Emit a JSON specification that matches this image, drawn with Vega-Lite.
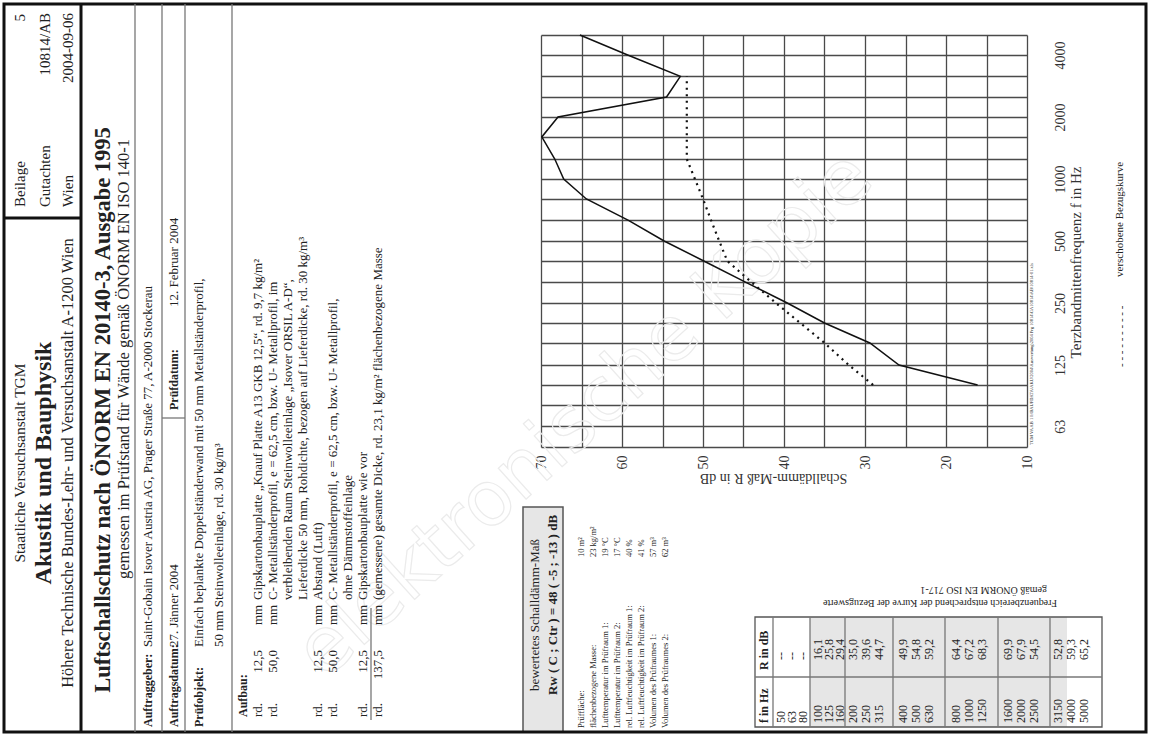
{
"$schema": "https://vega.github.io/schema/vega-lite/v6.json",
"width": 486,
"height": 412,
"autosize": "none",
"padding": {"left": 541, "top": 35, "right": 127, "bottom": 291},
"background": "white",
"config": {"font": "Liberation Serif", "view": {"stroke": null}, "text": {"font": "Liberation Serif", "color": "#222"}},
"datasets": {
"curves": [
{"series": "gemessen", "f": 100, "R": 16.1}, {"series": "gemessen", "f": 125, "R": 25.8}, {"series": "gemessen", "f": 160, "R": 29.4},
{"series": "gemessen", "f": 200, "R": 35.0}, {"series": "gemessen", "f": 250, "R": 39.6}, {"series": "gemessen", "f": 315, "R": 44.7},
{"series": "gemessen", "f": 400, "R": 49.9}, {"series": "gemessen", "f": 500, "R": 54.8}, {"series": "gemessen", "f": 630, "R": 59.2},
{"series": "gemessen", "f": 800, "R": 64.4}, {"series": "gemessen", "f": 1000, "R": 67.2}, {"series": "gemessen", "f": 1250, "R": 68.3},
{"series": "gemessen", "f": 1600, "R": 69.9}, {"series": "gemessen", "f": 2000, "R": 67.9}, {"series": "gemessen", "f": 2500, "R": 54.5},
{"series": "gemessen", "f": 3150, "R": 52.8}, {"series": "gemessen", "f": 4000, "R": 59.3}, {"series": "gemessen", "f": 5000, "R": 65.2},
{"series": "Bezugskurve", "f": 100, "R": 29}, {"series": "Bezugskurve", "f": 125, "R": 32}, {"series": "Bezugskurve", "f": 160, "R": 35},
{"series": "Bezugskurve", "f": 200, "R": 38}, {"series": "Bezugskurve", "f": 250, "R": 41}, {"series": "Bezugskurve", "f": 315, "R": 44},
{"series": "Bezugskurve", "f": 400, "R": 47}, {"series": "Bezugskurve", "f": 500, "R": 48}, {"series": "Bezugskurve", "f": 630, "R": 49},
{"series": "Bezugskurve", "f": 800, "R": 50}, {"series": "Bezugskurve", "f": 1000, "R": 51}, {"series": "Bezugskurve", "f": 1250, "R": 52},
{"series": "Bezugskurve", "f": 1600, "R": 52}, {"series": "Bezugskurve", "f": 2000, "R": 52}, {"series": "Bezugskurve", "f": 2500, "R": 52},
{"series": "Bezugskurve", "f": 3150, "R": 52}
],
"boxes": [
{"role": "shade", "cx": 810, "cx2": 1067, "cy": 617, "cy2": 727},
{"role": "rw", "cx": 523, "cx2": 563, "cy": 507, "cy2": 732},
{"role": "tbl", "cx": 755, "cx2": 1102, "cy": 617, "cy2": 727},
{"role": "frame", "cx": 4, "cx2": 1146, "cy": 4, "cy2": 732}
],
"lines": [
{"role": "thick", "cx": 81, "cx2": 81, "cy": 4, "cy2": 732},
{"role": "thick", "cx": 4, "cx2": 81, "cy": 218, "cy2": 218},
{"role": "thin", "cx": 135, "cx2": 135, "cy": 4, "cy2": 732},
{"role": "thin", "cx": 162, "cx2": 162, "cy": 4, "cy2": 732},
{"role": "thin", "cx": 185, "cx2": 185, "cy": 4, "cy2": 732},
{"role": "thin", "cx": 232, "cx2": 232, "cy": 4, "cy2": 732},
{"role": "thin", "cx": 162, "cx2": 185, "cy": 418, "cy2": 418},
{"role": "thin", "cx": 371, "cx2": 371, "cy": 720, "cy2": 608},
{"role": "thin", "cx": 755, "cx2": 1102, "cy": 677, "cy2": 677},
{"role": "thin", "cx": 773, "cx2": 773, "cy": 617, "cy2": 727},
{"role": "thin", "cx": 810, "cx2": 810, "cy": 617, "cy2": 727},
{"role": "thin", "cx": 845, "cx2": 845, "cy": 617, "cy2": 727},
{"role": "thin", "cx": 893, "cx2": 893, "cy": 617, "cy2": 727},
{"role": "thin", "cx": 945, "cx2": 945, "cy": 617, "cy2": 727},
{"role": "thin", "cx": 998, "cx2": 998, "cy": 617, "cy2": 727},
{"role": "thin", "cx": 1050, "cx2": 1050, "cy": 617, "cy2": 727}
],
"texts": [
{"role": "wm", "t": "elektronische Kopie", "cx": 585, "cy": 415},
{"role": "inst", "t": "Staatliche Versuchsanstalt TGM", "cx": 20, "cy": 463},
{"role": "inst2", "t": "Höhere Technische Bundes-Lehr- und Versuchsanstalt A-1200 Wien", "cx": 68, "cy": 463},
{"role": "instb", "t": "Akustik und Bauphysik", "cx": 44, "cy": 463},
{"role": "box", "t": "Beilage", "cx": 20, "cy": 207},
{"role": "box", "t": "Gutachten", "cx": 45, "cy": 207},
{"role": "box", "t": "Wien", "cx": 68, "cy": 207},
{"role": "boxr", "t": "5", "cx": 20, "cy": 14},
{"role": "boxr", "t": "10814/AB", "cx": 45, "cy": 13},
{"role": "boxr", "t": "2004-09-06", "cx": 68, "cy": 13},
{"role": "title", "t": "Luftschallschutz nach ÖNORM EN 20140-3, Ausgabe 1995", "cx": 103, "cy": 410},
{"role": "sub", "t": "gemessen im Prüfstand für Wände gemäß ÖNORM EN ISO 140-1", "cx": 124, "cy": 359},
{"role": "lbl", "t": "Auftraggeber:", "cx": 148, "cy": 727},
{"role": "lbl", "t": "Auftragsdatum:", "cx": 174, "cy": 727},
{"role": "lbl", "t": "Prüfdatum:", "cx": 174, "cy": 410},
{"role": "lbl", "t": "Prüfobjekt:", "cx": 199, "cy": 727},
{"role": "lbl", "t": "Aufbau:", "cx": 243, "cy": 717},
{"role": "val", "t": "Saint-Gobain Isover Austria AG, Prager Straße 77, A-2000 Stockerau", "cx": 148, "cy": 647},
{"role": "val", "t": "27. Jänner 2004", "cx": 174, "cy": 647},
{"role": "val", "t": "12. Februar 2004", "cx": 174, "cy": 307},
{"role": "val", "t": "Einfach beplankte Doppelständerwand mit 50 mm Metallständerprofil,", "cx": 199, "cy": 647},
{"role": "val", "t": "50 mm Steinwolleeinlage, rd. 30 kg/m³", "cx": 219, "cy": 647},
{"role": "val", "t": "rd.", "cx": 258, "cy": 717},
{"role": "valr", "t": "12,5", "cx": 258, "cy": 650},
{"role": "val", "t": "mm", "cx": 258, "cy": 625},
{"role": "val", "t": "Gipskartonbauplatte „Knauf Platte A13 GKB 12,5“, rd. 9,7 kg/m²", "cx": 258, "cy": 600},
{"role": "val", "t": "rd.", "cx": 273, "cy": 717},
{"role": "valr", "t": "50,0", "cx": 273, "cy": 650},
{"role": "val", "t": "mm", "cx": 273, "cy": 625},
{"role": "val", "t": "C- Metallständerprofil, e = 62,5 cm, bzw. U- Metallprofil, im", "cx": 273, "cy": 600},
{"role": "val", "t": "verbleibenden Raum Steinwolleeinlage „Isover ORSIL A-D“,", "cx": 288, "cy": 600},
{"role": "val", "t": "Lieferdicke 50 mm, Rohdichte, bezogen auf Lieferdicke, rd. 30 kg/m³", "cx": 303, "cy": 600},
{"role": "val", "t": "rd.", "cx": 318, "cy": 717},
{"role": "valr", "t": "12,5", "cx": 318, "cy": 650},
{"role": "val", "t": "mm", "cx": 318, "cy": 625},
{"role": "val", "t": "Abstand (Luft)", "cx": 318, "cy": 600},
{"role": "val", "t": "rd.", "cx": 333, "cy": 717},
{"role": "valr", "t": "50,0", "cx": 333, "cy": 650},
{"role": "val", "t": "mm", "cx": 333, "cy": 625},
{"role": "val", "t": "C- Metallständerprofil, e = 62,5 cm, bzw. U- Metallprofil,", "cx": 333, "cy": 600},
{"role": "val", "t": "ohne Dämmstoffeinlage", "cx": 348, "cy": 600},
{"role": "val", "t": "rd.", "cx": 363, "cy": 717},
{"role": "valr", "t": "12,5", "cx": 363, "cy": 650},
{"role": "val", "t": "mm", "cx": 363, "cy": 625},
{"role": "val", "t": "Gipskartonbauplatte wie vor", "cx": 363, "cy": 600},
{"role": "val", "t": "rd.", "cx": 378, "cy": 717},
{"role": "valr", "t": "137,5", "cx": 378, "cy": 650},
{"role": "val", "t": "mm", "cx": 378, "cy": 625},
{"role": "val", "t": "(gemessene) gesamte Dicke, rd. 23,1 kg/m² flächenbezogene Masse", "cx": 378, "cy": 600},
{"role": "rw1", "t": "bewertetes Schalldämm-Maß", "cx": 535, "cy": 615},
{"role": "rw2", "t": "Rw ( C ; Ctr ) =  48 ( -5 ; -13 ) dB", "cx": 553, "cy": 605},
{"role": "prop", "t": "Prüffläche:", "cx": 581, "cy": 728},
{"role": "prop", "t": "flächenbezogene Masse:", "cx": 593, "cy": 728},
{"role": "prop", "t": "Lufttemperatur im Prüfraum 1:", "cx": 605, "cy": 728},
{"role": "prop", "t": "Lufttemperatur im Prüfraum 2:", "cx": 617, "cy": 728},
{"role": "prop", "t": "rel. Luftfeuchtigkeit im Prüfraum 1:", "cx": 629, "cy": 728},
{"role": "prop", "t": "rel. Luftfeuchtigkeit im Prüfraum 2:", "cx": 641, "cy": 728},
{"role": "prop", "t": "Volumen des Prüfraumes 1:", "cx": 653, "cy": 728},
{"role": "prop", "t": "Volumen des Prüfraumes 2:", "cx": 665, "cy": 728},
{"role": "prop", "t": "10 m²", "cx": 581, "cy": 557},
{"role": "prop", "t": "23 kg/m²", "cx": 593, "cy": 557},
{"role": "prop", "t": "19 °C", "cx": 605, "cy": 557},
{"role": "prop", "t": "17 °C", "cx": 617, "cy": 557},
{"role": "prop", "t": "40 %", "cx": 629, "cy": 557},
{"role": "prop", "t": "41 %", "cx": 641, "cy": 557},
{"role": "prop", "t": "57 m³", "cx": 653, "cy": 557},
{"role": "prop", "t": "62 m³", "cx": 665, "cy": 557},
{"role": "tblh", "t": "f in Hz", "cx": 764, "cy": 723},
{"role": "tblh", "t": "R in dB", "cx": 764, "cy": 670},
{"role": "tbl", "t": "50", "cx": 781, "cy": 723}, {"role": "tbl", "t": "--", "cx": 781, "cy": 660},
{"role": "tbl", "t": "63", "cx": 792, "cy": 723}, {"role": "tbl", "t": "--", "cx": 792, "cy": 660},
{"role": "tbl", "t": "80", "cx": 803, "cy": 723}, {"role": "tbl", "t": "--", "cx": 803, "cy": 660},
{"role": "tbl", "t": "100", "cx": 818, "cy": 723}, {"role": "tbl", "t": "16,1", "cx": 818, "cy": 660},
{"role": "tbl", "t": "125", "cx": 829, "cy": 723}, {"role": "tbl", "t": "25,8", "cx": 829, "cy": 660},
{"role": "tbl", "t": "160", "cx": 840, "cy": 723}, {"role": "tbl", "t": "29,4", "cx": 840, "cy": 660},
{"role": "tbl", "t": "200", "cx": 853, "cy": 723}, {"role": "tbl", "t": "35,0", "cx": 853, "cy": 660},
{"role": "tbl", "t": "250", "cx": 866, "cy": 723}, {"role": "tbl", "t": "39,6", "cx": 866, "cy": 660},
{"role": "tbl", "t": "315", "cx": 879, "cy": 723}, {"role": "tbl", "t": "44,7", "cx": 879, "cy": 660},
{"role": "tbl", "t": "400", "cx": 903, "cy": 723}, {"role": "tbl", "t": "49,9", "cx": 903, "cy": 660},
{"role": "tbl", "t": "500", "cx": 916, "cy": 723}, {"role": "tbl", "t": "54,8", "cx": 916, "cy": 660},
{"role": "tbl", "t": "630", "cx": 929, "cy": 723}, {"role": "tbl", "t": "59,2", "cx": 929, "cy": 660},
{"role": "tbl", "t": "800", "cx": 956, "cy": 723}, {"role": "tbl", "t": "64,4", "cx": 956, "cy": 660},
{"role": "tbl", "t": "1000", "cx": 969, "cy": 723}, {"role": "tbl", "t": "67,2", "cx": 969, "cy": 660},
{"role": "tbl", "t": "1250", "cx": 982, "cy": 723}, {"role": "tbl", "t": "68,3", "cx": 982, "cy": 660},
{"role": "tbl", "t": "1600", "cx": 1008, "cy": 723}, {"role": "tbl", "t": "69,9", "cx": 1008, "cy": 660},
{"role": "tbl", "t": "2000", "cx": 1021, "cy": 723}, {"role": "tbl", "t": "67,9", "cx": 1021, "cy": 660},
{"role": "tbl", "t": "2500", "cx": 1034, "cy": 723}, {"role": "tbl", "t": "54,5", "cx": 1034, "cy": 660},
{"role": "tbl", "t": "3150", "cx": 1058, "cy": 723}, {"role": "tbl", "t": "52,8", "cx": 1058, "cy": 660},
{"role": "tbl", "t": "4000", "cx": 1071, "cy": 723}, {"role": "tbl", "t": "59,3", "cx": 1071, "cy": 660},
{"role": "tbl", "t": "5000", "cx": 1084, "cy": 723}, {"role": "tbl", "t": "65,2", "cx": 1084, "cy": 660},
{"role": "cap", "t": "Frequenzbereich entsprechend der Kurve der Bezugswerte", "cx": 1057, "cy": 603},
{"role": "cap", "t": "gemäß ÖNORM EN ISO 717-1", "cx": 1047, "cy": 590},
{"role": "leg", "t": "- - - - - - - - - -", "cx": 1122, "cy": 367},
{"role": "leg", "t": "verschobene Bezugskurve", "cx": 1120, "cy": 277},
{"role": "path", "t": "TGM VA AB 1 I:\\BAUFDATA\\AKU\\2004\\Auswertung\\2004 Prg 10814\\GA10814\\AB\\10814-01.xls", "cx": 1032, "cy": 445}
]
},
"layer": [
{
"data": {"name": "texts"},
"transform": [{"filter": "datum.role == 'wm'"}],
"mark": {"type": "text", "angle": 318, "font": "DejaVu Sans", "fontSize": 76, "align": "center", "baseline": "middle", "fillOpacity": 0, "stroke": "#ebebeb", "strokeWidth": 1.2},
"encoding": {
"x": {"field": "cx", "type": "quantitative", "scale": {"domain": [541, 1027], "nice": false, "zero": false}, "axis": null},
"y": {"field": "cy", "type": "quantitative", "scale": {"domain": [35, 447], "reverse": true, "nice": false, "zero": false}, "axis": null},
"text": {"field": "t"}
}
},
{
"data": {"name": "curves"},
"encoding": {
"x": {"field": "R", "type": "quantitative",
"scale": {"domain": [10, 70], "reverse": true, "nice": false, "zero": false},
"axis": {"orient": "bottom", "values": [10, 15, 20, 25, 30, 35, 40, 45, 50, 55, 60, 65, 70],
"labelExpr": "datum.value % 10 == 0 ? '' + datum.value : ''",
"grid": true, "gridColor": "#4a4a4a", "gridWidth": 1.3, "gridOpacity": 1,
"ticks": false, "tickSize": 0, "domain": false,
"labelAngle": 270, "labelAlign": "right", "labelBaseline": "middle", "labelPadding": 8,
"labelFont": "Liberation Serif", "labelFontSize": 14, "labelColor": "#333",
"title": "Schalldämm-Maß R in dB", "titleAngle": 180, "titleFont": "Liberation Serif", "titleFontSize": 14,
"titleFontWeight": "normal", "titleColor": "#333", "titleX": 232, "titleY": 30, "titleAlign": "center", "titleBaseline": "middle"}},
"y": {"field": "f", "type": "quantitative",
"scale": {"type": "log", "domain": [50, 5000], "nice": false},
"axis": {"orient": "right", "values": [50, 63, 80, 100, 125, 160, 200, 250, 315, 400, 500, 630, 800, 1000, 1250, 1600, 2000, 2500, 3150, 4000, 5000],
"labelExpr": "indexof([63, 125, 250, 500, 1000, 2000, 4000], datum.value) >= 0 ? '' + datum.value : ''",
"grid": true, "gridColor": "#4a4a4a", "gridWidth": 1.3, "gridOpacity": 1,
"ticks": false, "tickSize": 0, "domain": false,
"labelAngle": 270, "labelAlign": "center", "labelBaseline": "middle", "labelPadding": 33,
"labelFont": "Liberation Serif", "labelFontSize": 14, "labelColor": "#333",
"title": "Terzbandmittenfrequenz f in Hz", "titleAngle": 270, "titleFont": "Liberation Serif", "titleFontSize": 15,
"titleFontWeight": "normal", "titleColor": "#333", "titleX": 48, "titleY": 227, "titleAlign": "center", "titleBaseline": "middle"}},
"order": {"field": "f", "type": "quantitative"}
},
"layer": [
{"transform": [{"filter": "datum.series == 'gemessen'"}], "mark": {"type": "line", "color": "#111", "strokeWidth": 1.5}},
{"transform": [{"filter": "datum.series == 'Bezugskurve'"}], "mark": {"type": "line", "color": "#111", "strokeWidth": 2.2, "strokeDash": [2, 4.5]}}
]
},
{
"encoding": {
"x": {"field": "cx", "type": "quantitative", "scale": {"domain": [541, 1027], "nice": false, "zero": false}, "axis": null},
"y": {"field": "cy", "type": "quantitative", "scale": {"domain": [35, 447], "reverse": true, "nice": false, "zero": false}, "axis": null}
},
"layer": [
{"data": {"name": "boxes"}, "transform": [{"filter": "datum.role == 'shade'"}], "mark": {"type": "rect", "fill": "#e6e6e6"}, "encoding": {"x2": {"field": "cx2"}, "y2": {"field": "cy2"}}},
{"data": {"name": "boxes"}, "transform": [{"filter": "datum.role == 'rw'"}], "mark": {"type": "rect", "fill": "#e6e6e6", "stroke": "#555", "strokeWidth": 1.5}, "encoding": {"x2": {"field": "cx2"}, "y2": {"field": "cy2"}}},
{"data": {"name": "boxes"}, "transform": [{"filter": "datum.role == 'tbl'"}], "mark": {"type": "rect", "fillOpacity": 0, "stroke": "#555", "strokeWidth": 1.3}, "encoding": {"x2": {"field": "cx2"}, "y2": {"field": "cy2"}}},
{"data": {"name": "boxes"}, "transform": [{"filter": "datum.role == 'frame'"}], "mark": {"type": "rect", "fillOpacity": 0, "stroke": "#111", "strokeWidth": 3}, "encoding": {"x2": {"field": "cx2"}, "y2": {"field": "cy2"}}},
{"data": {"name": "lines"}, "transform": [{"filter": "datum.role == 'thick'"}], "mark": {"type": "rule", "color": "#111", "strokeWidth": 3}, "encoding": {"x2": {"field": "cx2"}, "y2": {"field": "cy2"}}},
{"data": {"name": "lines"}, "transform": [{"filter": "datum.role == 'thin'"}], "mark": {"type": "rule", "color": "#777", "strokeWidth": 1.3}, "encoding": {"x2": {"field": "cx2"}, "y2": {"field": "cy2"}}},
{"data": {"name": "texts"}, "transform": [{"filter": "datum.role == 'inst'"}], "mark": {"type": "text", "angle": 270, "fontSize": 15.5, "align": "center", "baseline": "middle"}, "encoding": {"text": {"field": "t"}}},
{"data": {"name": "texts"}, "transform": [{"filter": "datum.role == 'inst2'"}], "mark": {"type": "text", "angle": 270, "fontSize": 16.5, "align": "center", "baseline": "middle"}, "encoding": {"text": {"field": "t"}}},
{"data": {"name": "texts"}, "transform": [{"filter": "datum.role == 'instb'"}], "mark": {"type": "text", "angle": 270, "fontSize": 24, "fontWeight": "bold", "align": "center", "baseline": "middle"}, "encoding": {"text": {"field": "t"}}},
{"data": {"name": "texts"}, "transform": [{"filter": "datum.role == 'box'"}], "mark": {"type": "text", "angle": 270, "fontSize": 15, "align": "left", "baseline": "middle"}, "encoding": {"text": {"field": "t"}}},
{"data": {"name": "texts"}, "transform": [{"filter": "datum.role == 'boxr'"}], "mark": {"type": "text", "angle": 270, "fontSize": 15, "align": "right", "baseline": "middle"}, "encoding": {"text": {"field": "t"}}},
{"data": {"name": "texts"}, "transform": [{"filter": "datum.role == 'title'"}], "mark": {"type": "text", "angle": 270, "fontSize": 22.5, "fontWeight": "bold", "align": "center", "baseline": "middle"}, "encoding": {"text": {"field": "t"}}},
{"data": {"name": "texts"}, "transform": [{"filter": "datum.role == 'sub'"}], "mark": {"type": "text", "angle": 270, "fontSize": 16.5, "align": "center", "baseline": "middle"}, "encoding": {"text": {"field": "t"}}},
{"data": {"name": "texts"}, "transform": [{"filter": "datum.role == 'lbl'"}], "mark": {"type": "text", "angle": 270, "fontSize": 12, "fontWeight": "bold", "align": "left", "baseline": "middle"}, "encoding": {"text": {"field": "t"}}},
{"data": {"name": "texts"}, "transform": [{"filter": "datum.role == 'val'"}], "mark": {"type": "text", "angle": 270, "fontSize": 13, "align": "left", "baseline": "middle"}, "encoding": {"text": {"field": "t"}}},
{"data": {"name": "texts"}, "transform": [{"filter": "datum.role == 'valr'"}], "mark": {"type": "text", "angle": 270, "fontSize": 13, "align": "right", "baseline": "middle"}, "encoding": {"text": {"field": "t"}}},
{"data": {"name": "texts"}, "transform": [{"filter": "datum.role == 'rw1'"}], "mark": {"type": "text", "angle": 270, "fontSize": 13, "align": "center", "baseline": "middle"}, "encoding": {"text": {"field": "t"}}},
{"data": {"name": "texts"}, "transform": [{"filter": "datum.role == 'rw2'"}], "mark": {"type": "text", "angle": 270, "fontSize": 13, "fontWeight": "bold", "align": "center", "baseline": "middle"}, "encoding": {"text": {"field": "t"}}},
{"data": {"name": "texts"}, "transform": [{"filter": "datum.role == 'prop'"}], "mark": {"type": "text", "angle": 270, "fontSize": 8.5, "align": "left", "baseline": "middle"}, "encoding": {"text": {"field": "t"}}},
{"data": {"name": "texts"}, "transform": [{"filter": "datum.role == 'tblh'"}], "mark": {"type": "text", "angle": 270, "fontSize": 12, "fontWeight": "bold", "align": "left", "baseline": "middle"}, "encoding": {"text": {"field": "t"}}},
{"data": {"name": "texts"}, "transform": [{"filter": "datum.role == 'tbl'"}], "mark": {"type": "text", "angle": 270, "fontSize": 12, "align": "left", "baseline": "middle"}, "encoding": {"text": {"field": "t"}}},
{"data": {"name": "texts"}, "transform": [{"filter": "datum.role == 'cap'"}], "mark": {"type": "text", "angle": 180, "fontSize": 10, "align": "left", "baseline": "middle"}, "encoding": {"text": {"field": "t"}}},
{"data": {"name": "texts"}, "transform": [{"filter": "datum.role == 'leg'"}], "mark": {"type": "text", "angle": 270, "fontSize": 11, "align": "left", "baseline": "middle"}, "encoding": {"text": {"field": "t"}}},
{"data": {"name": "texts"}, "transform": [{"filter": "datum.role == 'path'"}], "mark": {"type": "text", "angle": 270, "fontSize": 4.5, "align": "left", "baseline": "middle"}, "encoding": {"text": {"field": "t"}}}
]
}
],
"resolve": {"scale": {"x": "independent", "y": "independent"}}
}
